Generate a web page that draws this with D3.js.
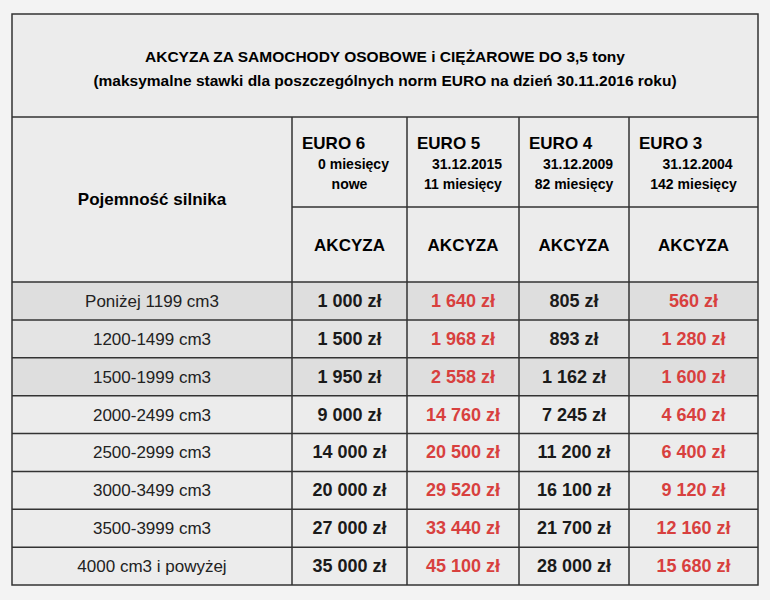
<!DOCTYPE html><html><head><meta charset="utf-8"><script src="https://d3js.org/d3.v7.min.js"></script>
<style>body{margin:0;background:#f2f2f2}</style></head><body><script>
const rows=["Poniżej 1199 cm3","1200-1499 cm3","1500-1999 cm3","2000-2499 cm3","2500-2999 cm3","3000-3499 cm3","3500-3999 cm3","4000 cm3 i powyżej"];
const euro6=["1 000 zł","1 500 zł","1 950 zł","9 000 zł","14 000 zł","20 000 zł","27 000 zł","35 000 zł"];
const euro5=["1 640 zł","1 968 zł","2 558 zł","14 760 zł","20 500 zł","29 520 zł","33 440 zł","45 100 zł"];
const euro4=["805 zł","893 zł","1 162 zł","7 245 zł","11 200 zł","16 100 zł","21 700 zł","28 000 zł"];
const euro3=["560 zł","1 280 zł","1 600 zł","4 640 zł","6 400 zł","9 120 zł","12 160 zł","15 680 zł"];
const headers=[["EURO 6","0 miesięcy","nowe"],["EURO 5","31.12.2015","11 miesięcy"],["EURO 4","31.12.2009","82 miesięcy"],["EURO 3","31.12.2004","142 miesięcy"]];
const colX=[12,292,407,519,629,758];
const svg=d3.select("body").append("svg").attr("width",770).attr("height",600).style("font-family","Liberation Sans, Arial, sans-serif");
svg.append("rect").attr("width",770).attr("height",600).attr("fill","#f3f3f3");
const y=d3.scaleBand().domain(d3.range(rows.length)).range([282,585]);
const topY=14;
svg.append("rect").attr("x",12).attr("y",topY).attr("width",746).attr("height",585-topY).attr("fill","#ececec");
rows.forEach((r,i)=>{ if(i<3){svg.append("rect").attr("x",12).attr("y",y(i)).attr("width",746).attr("height",y.bandwidth()).attr("fill",i==1?"#e4e4e4":"#dedede");}});
svg.append("text").attr("x",385).attr("y",62).attr("text-anchor","middle").attr("font-weight","bold").attr("font-size",15.5).text("AKCYZA ZA SAMOCHODY OSOBOWE i CIĘŻAROWE DO 3,5 tony");
svg.append("text").attr("x",385).attr("y",86).attr("text-anchor","middle").attr("font-weight","bold").attr("font-size",15.5).text("(maksymalne stawki dla poszczególnych norm EURO na dzień 30.11.2016 roku)");
svg.append("text").attr("x",152).attr("y",205).attr("text-anchor","middle").attr("font-weight","bold").attr("font-size",17).text("Pojemność silnika");
headers.forEach((h,j)=>{const cx=(colX[j+1]+colX[j+2])/2;
 svg.append("text").attr("x",colX[j+1]+10).attr("y",149).attr("font-weight","bold").attr("font-size",17).text(h[0]);
 svg.append("text").attr("x",cx+4).attr("y",169).attr("text-anchor","middle").attr("font-weight","bold").attr("font-size",14).text(h[1]);
 svg.append("text").attr("x",cx).attr("y",189).attr("text-anchor","middle").attr("font-weight","bold").attr("font-size",14).text(h[2]);
 svg.append("text").attr("x",cx).attr("y",251).attr("text-anchor","middle").attr("font-weight","bold").attr("font-size",17).text("AKCYZA");
});
const cols=[euro6,euro5,euro4,euro3],red=[false,true,false,true];
rows.forEach((r,i)=>{const cy=y(i)+y.bandwidth()/2+6;
 svg.append("text").attr("x",152).attr("y",cy).attr("text-anchor","middle").attr("font-size",17).attr("fill","#222").text(r);
 cols.forEach((c,j)=>svg.append("text").attr("x",(colX[j+1]+colX[j+2])/2).attr("y",cy).attr("text-anchor","middle").attr("font-weight","bold").attr("font-size",18).attr("fill",red[j]?"#d8403e":"#1a1a1a").text(c[i]));
});
const line=(x1,y1,x2,y2)=>svg.append("line").attr("x1",x1).attr("y1",y1).attr("x2",x2).attr("y2",y2).attr("stroke","#333").attr("stroke-width",1.5);
svg.append("rect").attr("x",12).attr("y",topY).attr("width",746).attr("height",585-topY).attr("fill","none").attr("stroke","#333").attr("stroke-width",1.5);
line(12,117,758,117);line(292,207,758,207);
colX.slice(1,5).forEach(x=>line(x,117,x,585));
y.domain().forEach(i=>line(12,y(i),758,y(i)));
</script></body></html>
